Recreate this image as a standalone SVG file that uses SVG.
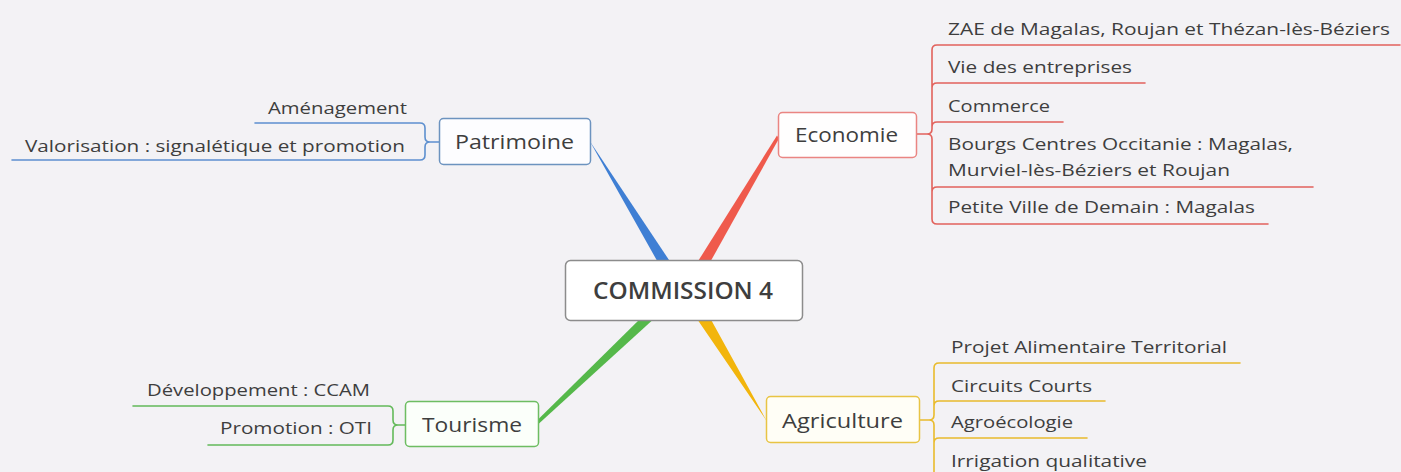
<svg xmlns="http://www.w3.org/2000/svg" width="1401" height="472" viewBox="0 0 1401 472">
<style>
text{font-family:"Open Sans","Noto Sans","DejaVu Sans",sans-serif;fill:#3e3e3e}
.sub{font-size:17px}
.topic{font-size:20px}
.central{font-size:23px;font-weight:600}
.box{stroke-width:1.5}
.ln{fill:none;stroke-width:1.6;stroke-linecap:round}
.blue{stroke:#5d8fcf}
.red{stroke:#e2625c}
.green{stroke:#63b95a}
.yellow{stroke:#e9bb2c}
</style>
<rect width="1401" height="472" fill="#f3f2f5"/>
<g id="connectors">
  <polygon points="590,141.5 592,144.5 673,266 660,266" fill="#3f7fd4"/>
  <polygon points="777,135.5 779,138.5 708,266 695,266" fill="#ef5a4c"/>
  <polygon points="537,420.5 539,423.5 657,316 643,316" fill="#55b84a"/>
  <polygon points="765,418.5 767,421.5 709,316 695,316" fill="#f2b50c"/>
  <path class="ln blue" d="M255 123 H420 Q425 123 425 128 V137 Q425 142 430 142 Q425 142 425 147 V155 Q425 160 420 160 H12 M430 142 H439"/>
  <path class="ln red" d="M1400 45 H937 Q932 45 932 50 V129 Q932 134 927 134 Q932 134 932 139 V219 Q932 224 937 224 H1268 M932 88 Q932 83 937 83 H1145 M932 127 Q932 122 937 122 H1063 M932 192 Q932 187 937 187 H1313 M917 134 H927"/>
  <path class="ln yellow" d="M1240 363 H939 Q934 363 934 368 V415 Q934 420 929 420 Q934 420 934 425 V480 M934 406 Q934 401 939 401 H1105 M934 443 Q934 438 939 438 H1087 M920 420 H929"/>
  <path class="ln green" d="M133 406 H388 Q393 406 393 411 V420 Q393 425 398 425 Q393 425 393 430 V440 Q393 445 388 445 H208 M398 425 H405"/>
</g>
<g id="central">
  <rect x="565.5" y="260.5" width="237" height="60" rx="5" fill="#ffffff" stroke="#8c8c8c" class="box"/>
  <text class="central" x="593" y="299" textLength="180" lengthAdjust="spacingAndGlyphs">COMMISSION 4</text>
</g>
<g id="patrimoine">
  <rect x="439.5" y="118.5" width="151" height="46" rx="4" fill="#fdfdff" stroke="#6c93bf" class="box"/>
  <text class="topic" x="455" y="149" textLength="119" lengthAdjust="spacingAndGlyphs">Patrimoine</text>
</g>
<g id="amenagement"><text class="sub" x="407" y="114" text-anchor="end" textLength="139" lengthAdjust="spacingAndGlyphs">Aménagement</text></g>
<g id="valorisation"><text class="sub" x="405" y="152" text-anchor="end" textLength="380" lengthAdjust="spacingAndGlyphs">Valorisation : signalétique et promotion</text></g>
<g id="economie">
  <rect x="778.5" y="112.5" width="138" height="45" rx="4" fill="#fffefe" stroke="#ea8582" class="box"/>
  <text class="topic" x="795" y="142" textLength="103" lengthAdjust="spacingAndGlyphs">Economie</text>
</g>
<g id="zae"><text class="sub" x="948" y="35" textLength="442" lengthAdjust="spacingAndGlyphs">ZAE de Magalas, Roujan et Thézan-lès-Béziers</text></g>
<g id="vie"><text class="sub" x="948" y="73" textLength="184" lengthAdjust="spacingAndGlyphs">Vie des entreprises</text></g>
<g id="commerce"><text class="sub" x="948" y="112" textLength="102" lengthAdjust="spacingAndGlyphs">Commerce</text></g>
<g id="bourgs">
  <text class="sub" x="948" y="150" textLength="345" lengthAdjust="spacingAndGlyphs">Bourgs Centres Occitanie : Magalas,</text>
  <text class="sub" x="948" y="176" textLength="282" lengthAdjust="spacingAndGlyphs">Murviel-lès-Béziers et Roujan</text>
</g>
<g id="petite"><text class="sub" x="948" y="213" textLength="307" lengthAdjust="spacingAndGlyphs">Petite Ville de Demain : Magalas</text></g>
<g id="agriculture">
  <rect x="766.5" y="396.5" width="153" height="46" rx="4" fill="#fffef6" stroke="#e8c444" class="box"/>
  <text class="topic" x="782" y="428" textLength="121" lengthAdjust="spacingAndGlyphs">Agriculture</text>
</g>
<g id="projet"><text class="sub" x="951" y="353" textLength="276" lengthAdjust="spacingAndGlyphs">Projet Alimentaire Territorial</text></g>
<g id="circuits"><text class="sub" x="951" y="392" textLength="141" lengthAdjust="spacingAndGlyphs">Circuits Courts</text></g>
<g id="agroecologie"><text class="sub" x="951" y="428" textLength="122" lengthAdjust="spacingAndGlyphs">Agroécologie</text></g>
<g id="irrigation"><text class="sub" x="951" y="467" textLength="196" lengthAdjust="spacingAndGlyphs">Irrigation qualitative</text></g>
<g id="tourisme">
  <rect x="405.5" y="401.5" width="133" height="45" rx="4" fill="#fbfffa" stroke="#6dbd62" class="box"/>
  <text class="topic" x="422" y="432" textLength="100" lengthAdjust="spacingAndGlyphs">Tourisme</text>
</g>
<g id="developpement"><text class="sub" x="370" y="396" text-anchor="end" textLength="223" lengthAdjust="spacingAndGlyphs">Développement : CCAM</text></g>
<g id="promotion"><text class="sub" x="372" y="434" text-anchor="end" textLength="152" lengthAdjust="spacingAndGlyphs">Promotion : OTI</text></g>
</svg>
